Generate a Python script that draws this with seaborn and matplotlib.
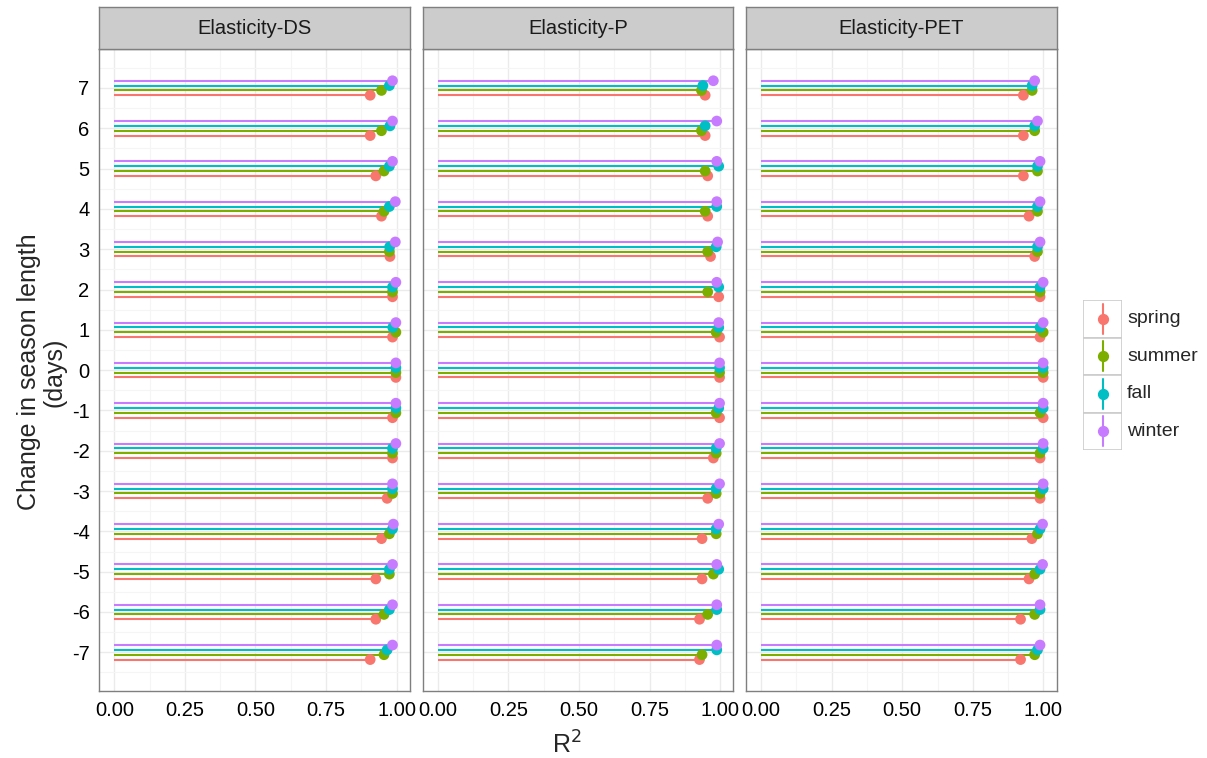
import numpy as np
import pandas as pd
import matplotlib
matplotlib.use("Agg")
import matplotlib.pyplot as plt
from matplotlib.patches import Rectangle
import seaborn as sns

# values, rows listed from +7 down to -7
shifts = [7, 6, 5, 4, 3, 2, 1, 0, -1, -2, -3, -4, -5, -6, -7]
seasons = ["spring", "summer", "fall", "winter"]
panels = ["Elasticity-DS", "Elasticity-P", "Elasticity-PET"]

ds_spring = [0.906, 0.906, 0.926, 0.946, 0.976, 0.985, 0.985, 0.997, 0.985, 0.985, 0.966, 0.946, 0.926, 0.926, 0.906]
ds_summer = [0.946, 0.946, 0.955, 0.955, 0.974, 0.985, 0.997, 0.997, 0.997, 0.985, 0.985, 0.974, 0.974, 0.955, 0.955]
ds_fall = [0.974, 0.976, 0.974, 0.974, 0.975, 0.985, 0.986, 0.997, 0.997, 0.985, 0.985, 0.985, 0.974, 0.974, 0.966]
ds_winter = [0.985, 0.985, 0.985, 0.995, 0.995, 0.997, 0.997, 0.997, 0.997, 0.997, 0.985, 0.988, 0.985, 0.985, 0.985]

p_spring = [0.947, 0.947, 0.956, 0.956, 0.966, 0.995, 0.998, 0.998, 0.998, 0.976, 0.956, 0.936, 0.936, 0.927, 0.927]
p_summer = [0.934, 0.934, 0.947, 0.947, 0.956, 0.956, 0.986, 0.998, 0.986, 0.986, 0.986, 0.986, 0.976, 0.956, 0.936]
p_fall = [0.939, 0.947, 0.995, 0.988, 0.986, 0.995, 0.995, 0.998, 0.995, 0.986, 0.986, 0.986, 0.995, 0.988, 0.988]
p_winter = [0.976, 0.988, 0.988, 0.988, 0.991, 0.988, 0.995, 0.998, 0.998, 0.998, 0.998, 0.995, 0.988, 0.988, 0.988]

pet_spring = [0.929, 0.929, 0.929, 0.949, 0.969, 0.988, 0.988, 0.999, 0.999, 0.988, 0.988, 0.959, 0.949, 0.919, 0.919]
pet_summer = [0.960, 0.969, 0.979, 0.979, 0.979, 0.988, 0.999, 0.999, 0.988, 0.988, 0.988, 0.979, 0.969, 0.969, 0.969]
pet_fall = [0.960, 0.969, 0.979, 0.979, 0.979, 0.988, 0.988, 0.999, 0.999, 0.999, 0.999, 0.988, 0.988, 0.988, 0.979]
pet_winter = [0.969, 0.979, 0.988, 0.988, 0.988, 0.999, 0.999, 0.999, 0.999, 0.999, 0.999, 0.997, 0.997, 0.988, 0.988]

values = {
    "Elasticity-DS": [ds_spring, ds_summer, ds_fall, ds_winter],
    "Elasticity-P": [p_spring, p_summer, p_fall, p_winter],
    "Elasticity-PET": [pet_spring, pet_summer, pet_fall, pet_winter],
}

colors = ["#F8766D", "#7CAE00", "#00BFC4", "#C77CFF"]
palette = dict(zip(seasons, colors))
dodge = dict(zip(seasons, [-0.18, -0.06, 0.06, 0.18]))

rows = []
for pan in panels:
    for s, vals in zip(seasons, values[pan]):
        for sh, v in zip(shifts, vals):
            rows.append({"panel": pan, "season": s, "shift": sh, "r2": v})
df = pd.DataFrame(rows)
df["ypos"] = df["shift"] + df["season"].map(dodge)

sns.set_style("white")
plt.rcParams["font.family"] = ["Liberation Sans", "DejaVu Sans"]
plt.rcParams["axes.unicode_minus"] = False

W, H = 1207, 758
fig = plt.figure(figsize=(W / 100, H / 100), dpi=100)

lefts = [99.3, 422.7, 746.0]
pw = 310.7
ptop, pbot = 49.3, 691.0
strip_top = 7.3
border = "#7F7F7F"

for i, pan in enumerate(panels):
    ax = fig.add_axes([lefts[i] / W, (H - pbot) / H, pw / W, (pbot - ptop) / H])
    sub = df[df["panel"] == pan]
    ax.set_xlim(-0.053, 1.047)
    ax.set_ylim(-7.96, 7.96)
    ax.set_xticks([0, 0.25, 0.5, 0.75, 1.0])
    ax.set_xticks([0.125, 0.375, 0.625, 0.875], minor=True)
    ax.set_yticks(shifts)
    ax.set_yticks(np.arange(-7.5, 8, 1), minor=True)
    ax.grid(which="major", color="#EBEBEB", lw=1.0)
    ax.grid(which="minor", color="#F5F5F5", lw=0.8)
    ax.set_axisbelow(True)
    for s in seasons:
        ss = sub[sub["season"] == s]
        ax.hlines(ss["ypos"], 0, ss["r2"], color=palette[s], lw=1.5, zorder=2)
    sns.scatterplot(data=sub, x="r2", y="ypos", hue="season", palette=palette,
                    s=60, edgecolor="none", legend=False, ax=ax, zorder=3)
    ax.set_xlabel("")
    ax.set_ylabel("")
    ax.set_xticklabels(["0.00", "0.25", "0.50", "0.75", "1.00"])
    if i == 0:
        ax.set_yticklabels([str(v) for v in shifts])
    else:
        ax.set_yticklabels([])
        ax.tick_params(axis="y", which="both", left=False)
    ax.tick_params(which="major", length=4, width=1, color="#333333",
                   labelsize=14.5, labelcolor="black", pad=3)
    ax.tick_params(which="minor", length=0)
    for sp in ax.spines.values():
        sp.set_color(border)
        sp.set_linewidth(1.0)

    sax = fig.add_axes([lefts[i] / W, (H - ptop) / H, pw / W, (ptop - strip_top) / H])
    sax.set_facecolor("#CCCCCC")
    sax.set_xticks([])
    sax.set_yticks([])
    for sp in sax.spines.values():
        sp.set_color(border)
        sp.set_linewidth(1.0)
    sax.text(0.5, 0.5, pan, ha="center", va="center", fontsize=14.5, color="#1A1A1A",
             transform=sax.transAxes)

fig.text(567 / W, 1 - 745 / H, "R$^2$", ha="center", va="center", fontsize=18)
fig.text(42 / W, 1 - 372 / H, "Change in season length\n(days)", ha="center", va="center",
         rotation=90, fontsize=18, linespacing=1.1)

# legend with pointrange-style keys
kx, ky, kw, kh = 1083.3, 300.0, 38.4, 37.5
lax = fig.add_axes([kx / W, (H - (ky + 4 * kh)) / H, kw / W, 4 * kh / H])
lax.set_xlim(0, 1)
lax.set_ylim(4, 0)
lax.axis("off")
for j, s in enumerate(seasons):
    lax.add_patch(Rectangle((0, j), 1, 1, facecolor="white", edgecolor="#CCCCCC", lw=1.2))
    lax.plot([0.5, 0.5], [j + 0.1, j + 0.9], color=palette[s], lw=1.5)
    lax.scatter([0.5], [j + 0.5], color=palette[s], s=50, zorder=3)
    fig.text(1127 / W, 1 - (ky + (j + 0.5) * kh) / H, s, ha="left", va="center", fontsize=14)

fig.savefig("out.png", dpi=100)
